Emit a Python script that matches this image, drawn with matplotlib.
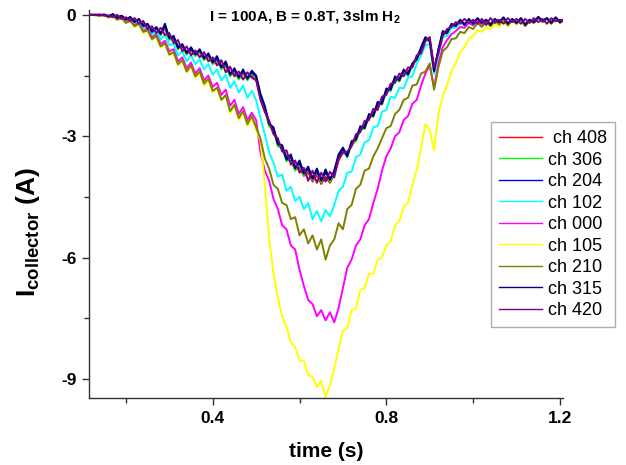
import numpy as np
import matplotlib
matplotlib.use("Agg")
from matplotlib import pyplot as plt

plt.rcParams['font.family'] = ['Liberation Sans', 'DejaVu Sans']
plt.rcParams['mathtext.fontset'] = 'custom'
plt.rcParams['mathtext.rm'] = 'Liberation Sans:bold'
plt.rcParams['mathtext.bf'] = 'Liberation Sans:bold'

# eje de tiempo (s), un punto cada 10 ms
tiempo = np.round(np.arange(0.11, 1.2150, 0.01), 2)

canales = ['ch 408', 'ch 306', 'ch 204', 'ch 102', 'ch 000',
           'ch 105', 'ch 210', 'ch 315', 'ch 420']
colores = ['#FF0000', '#00FF00', '#0000FF', '#00FFFF', '#FF00FF',
           '#FFFF00', '#808000', '#000080', '#800080']

ch408 = [0.00, 0.00, 0.00, 0.00, -0.01, -0.03, -0.01, -0.07, -0.04, -0.11,
         -0.08, -0.16, -0.14, -0.26, -0.25, -0.40, -0.36, -0.46, -0.35, -0.60,
         -0.60, -0.80, -0.78, -0.96, -0.88, -1.00, -0.92, -1.10, -1.02, -1.20,
         -1.12, -1.32, -1.25, -1.50, -1.42, -1.58, -1.45, -1.60, -1.48, -1.58,
         -2.05, -2.35, -2.72, -2.88, -3.18, -3.32, -3.55, -3.62, -3.82, -3.78,
         -3.98, -3.90, -4.12, -3.95, -4.18, -4.00, -4.15, -3.95, -3.60, -3.40,
         -3.48, -3.22, -3.10, -2.85, -2.78, -2.55, -2.48, -2.25, -2.15, -1.92,
         -1.82, -1.62, -1.58, -1.42, -1.42, -1.25, -1.08, -0.88, -0.62, -0.62,
         -1.35, -0.92, -0.48, -0.42, -0.28, -0.25, -0.18, -0.22, -0.15, -0.20,
         -0.12, -0.18, -0.15, -0.22, -0.12, -0.16, -0.10, -0.20, -0.12, -0.18,
         -0.10, -0.22, -0.14, -0.16, -0.08, -0.14, -0.10, -0.18, -0.08, -0.16, -0.12]

ch306 = [0.00, 0.00, 0.00, -0.01, 0.00, -0.05, 0.00, -0.09, -0.03, -0.13,
         -0.07, -0.19, -0.12, -0.30, -0.24, -0.44, -0.33, -0.50, -0.28, -0.62,
         -0.56, -0.85, -0.75, -0.98, -0.84, -1.02, -0.90, -1.12, -0.99, -1.22,
         -1.08, -1.35, -1.20, -1.52, -1.38, -1.60, -1.40, -1.62, -1.44, -1.56,
         -2.00, -2.32, -2.75, -2.85, -3.25, -3.28, -3.62, -3.52, -3.85, -3.68,
         -3.96, -3.82, -4.08, -3.88, -4.14, -3.90, -4.12, -3.92, -3.52, -3.35,
         -3.52, -3.18, -3.12, -2.80, -2.82, -2.50, -2.52, -2.20, -2.22, -1.88,
         -1.88, -1.58, -1.65, -1.40, -1.50, -1.25, -1.12, -0.85, -0.58, -0.68,
         -1.42, -0.88, -0.45, -0.48, -0.25, -0.30, -0.15, -0.26, -0.12, -0.24,
         -0.10, -0.22, -0.14, -0.26, -0.12, -0.20, -0.08, -0.24, -0.12, -0.22,
         -0.10, -0.26, -0.14, -0.20, -0.07, -0.17, -0.10, -0.22, -0.08, -0.20, -0.12]

ch204 = [0.00, 0.00, 0.00, 0.00, 0.00, -0.03, 0.01, -0.06, -0.03, -0.10,
         -0.07, -0.15, -0.13, -0.24, -0.24, -0.38, -0.33, -0.44, -0.28, -0.55,
         -0.56, -0.78, -0.76, -0.92, -0.85, -0.96, -0.88, -1.05, -0.99, -1.15,
         -1.08, -1.28, -1.20, -1.45, -1.36, -1.52, -1.40, -1.55, -1.42, -1.52,
         -2.00, -2.30, -2.66, -2.82, -3.15, -3.28, -3.52, -3.52, -3.76, -3.68,
         -3.90, -3.82, -4.02, -3.88, -4.06, -3.90, -4.04, -3.90, -3.50, -3.32,
         -3.45, -3.18, -3.05, -2.80, -2.75, -2.50, -2.45, -2.20, -2.15, -1.86,
         -1.80, -1.56, -1.58, -1.38, -1.44, -1.22, -1.06, -0.84, -0.58, -0.62,
         -1.36, -0.88, -0.44, -0.44, -0.25, -0.26, -0.15, -0.24, -0.12, -0.20,
         -0.10, -0.19, -0.13, -0.24, -0.11, -0.17, -0.08, -0.21, -0.11, -0.19,
         -0.09, -0.24, -0.13, -0.17, -0.06, -0.15, -0.09, -0.19, -0.07, -0.17, -0.11]

ch102 = [0.00, 0.00, 0.00, -0.01, 0.00, -0.05, -0.01, -0.10, -0.05, -0.15,
         -0.10, -0.22, -0.16, -0.34, -0.30, -0.50, -0.40, -0.62, -0.48, -0.75,
         -0.72, -1.00, -0.90, -1.15, -1.00, -1.22, -1.10, -1.35, -1.22, -1.48,
         -1.35, -1.62, -1.48, -1.80, -1.65, -1.92, -1.75, -2.05, -1.88, -2.10,
         -2.55, -2.95, -3.40, -3.65, -4.00, -3.95, -4.35, -4.25, -4.60, -4.50,
         -4.80, -4.65, -5.05, -4.85, -5.10, -4.82, -4.98, -4.70, -4.35, -4.25,
         -3.90, -3.88, -3.52, -3.45, -3.15, -3.10, -2.78, -2.75, -2.40, -2.35,
         -2.02, -2.05, -1.80, -1.82, -1.55, -1.52, -1.22, -1.00, -0.75, -0.72,
         -1.45, -1.00, -0.55, -0.52, -0.32, -0.32, -0.18, -0.26, -0.14, -0.22,
         -0.12, -0.20, -0.12, -0.24, -0.10, -0.18, -0.08, -0.22, -0.10, -0.20,
         -0.09, -0.24, -0.12, -0.18, -0.06, -0.16, -0.08, -0.20, -0.07, -0.18, -0.10]

ch000 = [0.00, 0.00, 0.00, -0.02, 0.00, -0.06, -0.01, -0.11, -0.07, -0.18,
         -0.13, -0.26, -0.20, -0.40, -0.34, -0.56, -0.48, -0.72, -0.64, -0.90,
         -0.85, -1.15, -1.05, -1.32, -1.18, -1.45, -1.32, -1.62, -1.50, -1.78,
         -1.68, -1.98, -1.85, -2.25, -2.10, -2.45, -2.28, -2.60, -2.42, -2.60,
         -3.40, -3.85, -4.10, -4.55, -4.80, -5.20, -5.30, -5.70, -5.80, -6.30,
         -6.70, -7.05, -7.15, -7.45, -7.30, -7.55, -7.35, -7.60, -7.25, -6.75,
         -6.25, -6.05, -5.70, -5.55, -5.20, -5.05, -4.65, -4.30, -3.85, -3.50,
         -3.30, -3.00, -2.90, -2.60, -2.50, -2.20, -2.10, -1.75, -1.45, -1.25,
         -1.80, -1.20, -0.80, -0.62, -0.48, -0.40, -0.30, -0.32, -0.20, -0.26,
         -0.14, -0.24, -0.14, -0.26, -0.12, -0.20, -0.10, -0.24, -0.12, -0.20,
         -0.10, -0.26, -0.13, -0.19, -0.07, -0.17, -0.09, -0.21, -0.08, -0.19, -0.11]

ch105 = [0.00, 0.00, -0.01, -0.02, 0.00, -0.07, -0.02, -0.13, -0.08, -0.20,
         -0.16, -0.30, -0.24, -0.45, -0.40, -0.62, -0.55, -0.80, -0.72, -1.00,
         -0.95, -1.25, -1.15, -1.42, -1.28, -1.55, -1.45, -1.75, -1.62, -1.92,
         -1.80, -2.12, -2.00, -2.42, -2.25, -2.60, -2.40, -2.75, -2.55, -2.85,
         -3.10, -4.20, -5.50, -6.40, -7.00, -7.45, -7.70, -8.10, -8.20, -8.55,
         -8.55, -8.90, -8.95, -9.20, -9.05, -9.45, -9.15, -8.75, -8.25, -7.80,
         -7.75, -7.30, -7.25, -6.80, -6.75, -6.40, -6.40, -6.05, -6.00, -5.70,
         -5.60, -5.20, -5.10, -4.75, -4.65, -4.20, -3.85, -3.30, -2.70, -2.85,
         -3.35, -2.45, -2.00, -1.75, -1.38, -1.20, -0.92, -0.80, -0.58, -0.52,
         -0.38, -0.42, -0.30, -0.36, -0.22, -0.30, -0.15, -0.28, -0.14, -0.24,
         -0.12, -0.28, -0.14, -0.20, -0.08, -0.18, -0.10, -0.22, -0.08, -0.20, -0.12]

ch210 = [0.00, 0.00, -0.01, -0.02, 0.00, -0.06, -0.02, -0.12, -0.08, -0.20,
         -0.15, -0.28, -0.22, -0.42, -0.38, -0.60, -0.52, -0.78, -0.70, -0.98,
         -0.92, -1.22, -1.12, -1.40, -1.25, -1.52, -1.40, -1.70, -1.58, -1.88,
         -1.80, -2.10, -1.98, -2.38, -2.22, -2.55, -2.38, -2.70, -2.50, -2.78,
         -3.05, -3.55, -3.80, -4.20, -4.30, -4.65, -4.70, -5.05, -5.00, -5.45,
         -5.30, -5.65, -5.45, -5.80, -5.55, -6.05, -5.70, -5.55, -5.15, -5.30,
         -4.80, -4.70, -4.30, -4.20, -3.85, -3.80, -3.50, -3.30, -3.05, -2.80,
         -2.75, -2.45, -2.35, -2.10, -2.05, -1.75, -1.72, -1.45, -1.40, -1.20,
         -1.85, -1.30, -0.90, -0.80, -0.60, -0.58, -0.42, -0.45, -0.30, -0.35,
         -0.20, -0.30, -0.18, -0.28, -0.14, -0.24, -0.12, -0.26, -0.14, -0.22,
         -0.12, -0.28, -0.14, -0.20, -0.08, -0.18, -0.10, -0.22, -0.08, -0.20, -0.12]

ch315 = [0.00, 0.00, 0.00, -0.01, 0.01, -0.04, 0.02, -0.08, -0.02, -0.12,
         -0.05, -0.18, -0.10, -0.28, -0.22, -0.42, -0.30, -0.48, -0.22, -0.58,
         -0.52, -0.82, -0.72, -0.95, -0.80, -0.98, -0.85, -1.08, -0.95, -1.18,
         -1.02, -1.30, -1.15, -1.48, -1.32, -1.55, -1.35, -1.58, -1.38, -1.50,
         -1.95, -2.25, -2.70, -2.78, -3.20, -3.22, -3.58, -3.45, -3.80, -3.60,
         -3.92, -3.75, -4.05, -3.80, -4.10, -3.82, -4.08, -3.85, -3.45, -3.28,
         -3.50, -3.12, -3.08, -2.75, -2.80, -2.45, -2.50, -2.15, -2.20, -1.82,
         -1.85, -1.52, -1.62, -1.35, -1.48, -1.20, -1.10, -0.80, -0.55, -0.65,
         -1.40, -0.85, -0.40, -0.45, -0.22, -0.28, -0.12, -0.25, -0.10, -0.22,
         -0.08, -0.20, -0.12, -0.25, -0.10, -0.18, -0.06, -0.22, -0.10, -0.20,
         -0.08, -0.25, -0.12, -0.18, -0.05, -0.15, -0.08, -0.20, -0.06, -0.18, -0.10]

ch420 = [0.00, 0.00, 0.00, 0.01, -0.02, -0.02, -0.06, 0.00, -0.10, -0.06,
         -0.15, -0.08, -0.22, -0.15, -0.35, -0.28, -0.45, -0.32, -0.50, -0.45,
         -0.70, -0.62, -0.90, -0.78, -1.00, -0.88, -1.05, -0.92, -1.15, -1.05,
         -1.25, -1.12, -1.42, -1.28, -1.52, -1.40, -1.60, -1.42, -1.55, -1.62,
         -2.10, -2.40, -2.62, -2.95, -3.05, -3.38, -3.35, -3.70, -3.60, -3.90,
         -3.78, -4.10, -3.85, -4.15, -3.90, -4.12, -3.88, -4.02, -3.55, -3.40,
         -3.38, -3.25, -2.95, -2.90, -2.62, -2.60, -2.32, -2.35, -2.02, -1.98,
         -1.70, -1.68, -1.45, -1.52, -1.30, -1.30, -1.00, -0.95, -0.65, -0.55,
         -1.30, -0.95, -0.52, -0.35, -0.30, -0.18, -0.22, -0.10, -0.20, -0.12,
         -0.22, -0.10, -0.25, -0.08, -0.20, -0.12, -0.22, -0.08, -0.18, -0.10,
         -0.22, -0.10, -0.20, -0.08, -0.18, -0.10, -0.22, -0.08, -0.16, -0.12, -0.15]

series = [ch408, ch306, ch204, ch102, ch000, ch105, ch210, ch315, ch420]

fig = plt.figure(figsize=(6.26, 4.65), dpi=100)
ax = fig.add_axes([89/626, 67/465, 474/626, 388/465])

for nombre, col, valores in zip(canales, colores, series):
    etiqueta = ' ' + nombre if nombre == 'ch 408' else nombre
    ax.plot(tiempo, valores, color=col, lw=1.4, label=etiqueta)

ax.set_xlim(0.115, 1.207)
ax.set_ylim(-9.47, 0.12)
ax.set_xticks([0.4, 0.8, 1.2])
ax.set_xticks([0.2, 0.6, 1.0], minor=True)
ax.set_xticklabels(['0.4', '0.8', '1.2'])
ax.set_yticks([0, -3, -6, -9])
ax.set_yticks([-1.5, -4.5, -7.5], minor=True)
ax.set_yticklabels(['0', '-3', '-6', '-9'])

for lado in ['top', 'right']:
    ax.spines[lado].set_visible(False)
for lado in ['left', 'bottom']:
    ax.spines[lado].set_color('#333333')
    ax.spines[lado].set_linewidth(1.0)

ax.tick_params(which='major', direction='out', length=5, width=1.0,
               color='#333333', labelsize=12.5, pad=4)
ax.tick_params(which='minor', direction='out', length=3.5, width=1.0,
               color='#333333')
for lbl in ax.get_xticklabels() + ax.get_yticklabels():
    lbl.set_fontweight('bold')

fig.text(326/626, 1 - 451/465, 'time (s)', ha='center', va='center',
         fontsize=15, fontweight='bold')
fig.text(28/626, 1 - 232/465, r'$\mathbf{I_{collector}}$ (A)', rotation=90,
         ha='center', va='center', fontsize=19, fontweight='bold')
fig.text(305/626, 1 - 17/465, r'I = 100A, B = 0.8T, 3slm H$_\mathbf{2}$',
         ha='center', va='center', fontsize=11, fontweight='bold')

leg = ax.legend(loc='upper left', bbox_to_anchor=(491/626, 1 - 122/465),
                bbox_transform=fig.transFigure, fontsize=13, frameon=True,
                fancybox=False, handlelength=2.4, handletextpad=0.3,
                labelspacing=0.25, borderpad=0.45, borderaxespad=0)
leg.get_frame().set_edgecolor('#999999')
leg.get_frame().set_linewidth(1.0)
for linea in leg.get_lines():
    linea.set_linewidth(1.0)

fig.savefig('out.png', dpi=100)
